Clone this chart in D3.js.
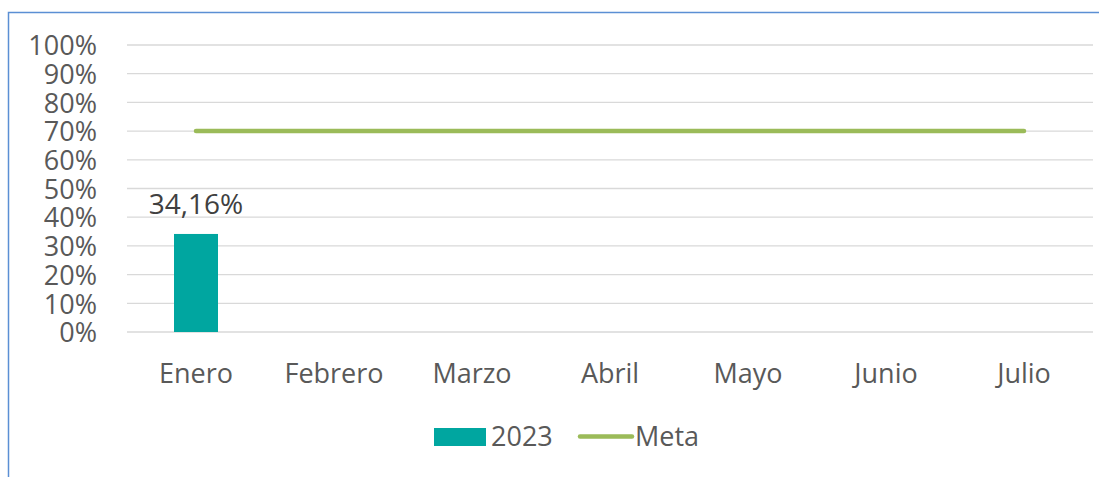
<!DOCTYPE html>
<html>
<head>
<meta charset="utf-8">
<script src="https://cdn.jsdelivr.net/npm/d3@7"></script>
<style>
  body { margin: 0; background: #fff; }
  svg text { font-family: "Open Sans", sans-serif; }
</style>
</head>
<body>
<svg width="1099" height="477"></svg>
<script>
// data
var MONTHS = ["Enero", "Febrero", "Marzo", "Abril", "Mayo", "Junio", "Julio"];
var VALUES_2023 = [0.3416, null, null, null, null, null, null];
var META = [0.7, 0.7, 0.7, 0.7, 0.7, 0.7, 0.7];
var Y_TICKS = [0, 0.1, 0.2, 0.3, 0.4, 0.5, 0.6, 0.7, 0.8, 0.9, 1.0];

var svg = d3.select("svg");
MARGIN = ({top: 45, right: 6, bottom: 145, left: 127});
WIDTH = svg.attr("width") - MARGIN.left - MARGIN.right;
HEIGHT = svg.attr("height") - MARGIN.top - MARGIN.bottom;

// frame (cropped at bottom / right)
svg.append("path")
    .attr("d", "M8.5,477 L8.5,12.5 L1099,12.5")
    .attr("fill", "none")
    .attr("stroke", "#5B8FD4")
    .attr("stroke-width", 1.5);

g = svg.append("g")
    .attr("transform", "translate(" + MARGIN.left + "," + MARGIN.top + ")");

var x = d3.scaleBand().domain(MONTHS).range([0, WIDTH]);
var y = d3.scaleLinear().domain([0, 1]).range([HEIGHT, 0]);

// gridlines
g.append("g")
    .selectAll("line")
    .data(Y_TICKS)
    .enter().append("line")
        .attr("x1", 0)
        .attr("x2", WIDTH)
        .attr("y1", d => y(d))
        .attr("y2", d => y(d))
        .attr("stroke", "#d9d9d9")
        .attr("stroke-width", 1.3);

// y axis
var yAxis = g.append("g")
    .call(d3.axisLeft(y).tickValues(Y_TICKS).tickSize(0).tickPadding(0)
        .tickFormat(d => Math.round(d * 100) + "%"));
yAxis.select(".domain").remove();
yAxis.selectAll("text")
    .attr("x", -30)
    .attr("dy", "0.36em")
    .attr("fill", "#595959")
    .style("font-size", "27px")
    .style("font-family", "'Open Sans', sans-serif");

// x axis
var xAxis = g.append("g")
    .attr("transform", "translate(0," + HEIGHT + ")")
    .call(d3.axisBottom(x).tickSize(0).tickPadding(0));
xAxis.select(".domain").remove();
xAxis.selectAll("text")
    .attr("y", 51)
    .attr("dy", 0)
    .attr("fill", "#595959")
    .style("font-size", "27px")
    .style("font-family", "'Open Sans', sans-serif");

// bars
var barW = 44;
var bars = MONTHS.map((m, i) => ({month: m, v: VALUES_2023[i]})).filter(d => d.v != null);
g.selectAll(".bar")
    .data(bars)
    .enter().append("rect")
        .attr("class", "bar")
        .attr("x", d => x(d.month) + x.bandwidth() / 2 - barW / 2)
        .attr("y", d => y(d.v))
        .attr("width", barW)
        .attr("height", d => HEIGHT - y(d.v))
        .attr("fill", "#00A6A0");

g.selectAll(".lbl")
    .data(bars)
    .enter().append("text")
        .attr("class", "lbl")
        .attr("x", d => x(d.month) + x.bandwidth() / 2)
        .attr("y", d => y(d.v) - 20)
        .attr("text-anchor", "middle")
        .attr("fill", "#404040")
        .style("font-size", "28px")
        .text(d => d3.format(".2f")(d.v * 100).replace(".", ",") + "%");

// meta line
var line = d3.line()
    .x((d, i) => x(MONTHS[i]) + x.bandwidth() / 2)
    .y(d => y(d));

g.append("path")
    .datum(META)
    .attr("fill", "none")
    .attr("stroke", "#9BBB59")
    .attr("stroke-width", 4.5)
    .attr("stroke-linecap", "round")
    .attr("d", line);

// legend
var leg = svg.append("g");
leg.append("rect")
    .attr("x", 434).attr("y", 428)
    .attr("width", 52).attr("height", 18)
    .attr("fill", "#00A6A0");
leg.append("text")
    .attr("x", 491).attr("y", 446)
    .attr("fill", "#595959")
    .style("font-size", "27px")
    .text("2023");
leg.append("line")
    .attr("x1", 580).attr("x2", 632)
    .attr("y1", 436.5).attr("y2", 436.5)
    .attr("stroke", "#9BBB59")
    .attr("stroke-width", 4.5)
    .attr("stroke-linecap", "round");
leg.append("text")
    .attr("x", 635).attr("y", 446)
    .attr("fill", "#595959")
    .style("font-size", "27px")
    .text("Meta");
</script>
</body>
</html>
